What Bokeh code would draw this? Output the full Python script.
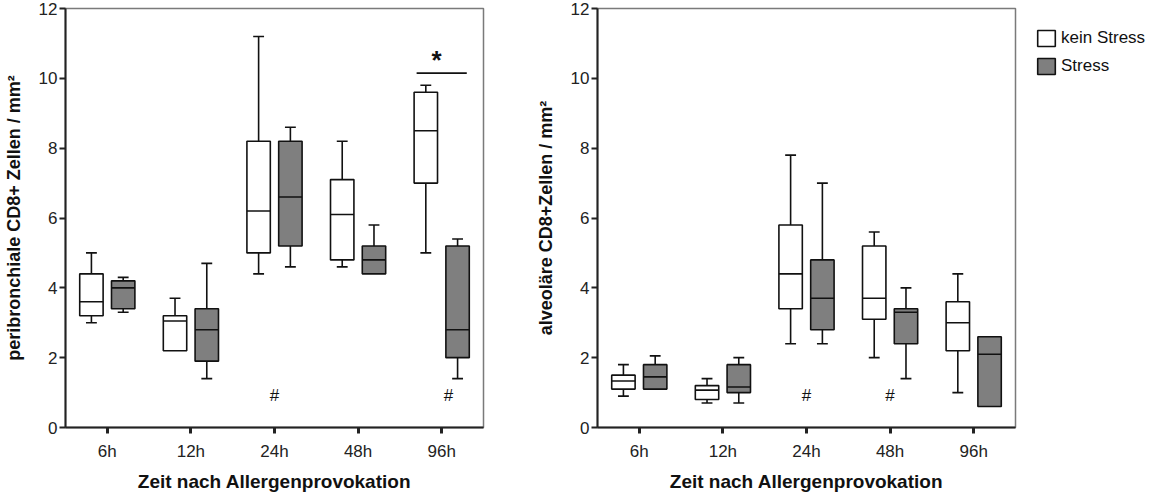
from bokeh.plotting import figure
from bokeh.models import ColumnDataSource, FactorRange, Range1d, Legend, LegendItem, FixedTicker
from bokeh.transform import dodge
from bokeh.layouts import row
from bokeh.embed import file_html
from bokeh.resources import INLINE
from bokeh.core.properties import value

categories = ["6h", "12h", "24h", "48h", "96h"]
y_ticks = [0, 2, 4, 6, 8, 10, 12]

# peribronchial CD8+ cells / mm2
peri_kein_low = [3.0, 2.2, 4.4, 4.6, 5.0]
peri_kein_q1 = [3.2, 2.2, 5.0, 4.8, 7.0]
peri_kein_med = [3.6, 3.05, 6.2, 6.1, 8.5]
peri_kein_q3 = [4.4, 3.2, 8.2, 7.1, 9.6]
peri_kein_high = [5.0, 3.7, 11.2, 8.2, 9.8]
peri_stress_low = [3.3, 1.4, 4.6, 4.4, 1.4]
peri_stress_q1 = [3.4, 1.9, 5.2, 4.4, 2.0]
peri_stress_med = [4.0, 2.8, 6.6, 4.8, 2.8]
peri_stress_q3 = [4.2, 3.4, 8.2, 5.2, 5.2]
peri_stress_high = [4.3, 4.7, 8.6, 5.8, 5.4]
peri_hash = ["24h", "96h"]

# alveolar CD8+ cells / mm2
alv_kein_low = [0.9, 0.7, 2.4, 2.0, 1.0]
alv_kein_q1 = [1.1, 0.8, 3.4, 3.1, 2.2]
alv_kein_med = [1.33, 1.07, 4.4, 3.7, 3.0]
alv_kein_q3 = [1.5, 1.2, 5.8, 5.2, 3.6]
alv_kein_high = [1.8, 1.4, 7.8, 5.6, 4.4]
alv_stress_low = [1.1, 0.7, 2.4, 1.4, 0.6]
alv_stress_q1 = [1.1, 1.0, 2.8, 2.4, 0.6]
alv_stress_med = [1.45, 1.16, 3.7, 3.3, 2.1]
alv_stress_q3 = [1.8, 1.8, 4.8, 3.4, 2.6]
alv_stress_high = [2.05, 2.0, 7.0, 4.0, 2.6]
alv_hash = ["24h", "48h"]

sig_category = "96h"
sig_level = 10.15

FONT = "Liberation Sans"
GREY = "#7f7f7f"
BOX_W = 0.28
OFF = 0.19


def draw_group(p, low, q1, med, q3, high, off, fill):
    src = ColumnDataSource(dict(cat=categories, low=low, q1=q1, med=med, q3=q3, high=high))
    up = [i for i in range(len(categories)) if high[i] > q3[i]]
    usrc = ColumnDataSource(dict(cat=[categories[i] for i in up], a=[q3[i] for i in up], b=[high[i] for i in up]))
    lo = [i for i in range(len(categories)) if low[i] < q1[i]]
    lsrc = ColumnDataSource(dict(cat=[categories[i] for i in lo], a=[q1[i] for i in lo], b=[low[i] for i in lo]))
    for s in (usrc, lsrc):
        p.segment(x0=dodge("cat", off, range=p.x_range), x1=dodge("cat", off, range=p.x_range),
                  y0="a", y1="b", line_color="#111111", line_width=1.6, source=s)
        p.segment(x0=dodge("cat", off - 0.065, range=p.x_range), x1=dodge("cat", off + 0.065, range=p.x_range),
                  y0="b", y1="b", line_color="#111111", line_width=1.6, source=s)
    r = p.vbar(x=dodge("cat", off, range=p.x_range), top="q3", bottom="q1", width=BOX_W,
               fill_color=fill, line_color="#111111", line_width=1.6, source=src)
    p.segment(x0=dodge("cat", off - BOX_W / 2, range=p.x_range), x1=dodge("cat", off + BOX_W / 2, range=p.x_range),
              y0="med", y1="med", line_color="#111111", line_width=1.6, source=src)
    return r


def make_panel(kein, stress, ylabel, hash_cats, hash_offsets, min_left, min_right):
    p = figure(x_range=FactorRange(factors=categories), y_range=Range1d(0, 12),
               frame_width=418, frame_height=419,
               min_border_left=min_left, min_border_right=min_right,
               min_border_top=8, min_border_bottom=68,
               output_backend="svg", toolbar_location=None)
    p.xgrid.visible = False
    p.ygrid.visible = False
    p.outline_line_color = "#7a7a7a"
    p.outline_line_width = 1.5
    p.background_fill_color = "white"
    p.border_fill_color = "white"

    p.yaxis.ticker = FixedTicker(ticks=y_ticks)
    for ax in (p.xaxis[0], p.yaxis[0]):
        ax.axis_line_color = "#222222"
        ax.axis_line_width = 2
        ax.major_tick_line_color = "#222222"
        ax.major_tick_line_width = 2
        ax.major_tick_in = 0
        ax.major_tick_out = 6
        ax.minor_tick_line_color = None
        ax.major_label_text_font = FONT
        ax.major_label_text_font_size = "17px"
        ax.major_label_text_color = "#222222"
        ax.axis_label_text_font = FONT
        ax.axis_label_text_font_style = "bold"
        ax.axis_label_text_color = "#111111"
    p.xaxis.major_tick_line_width = 3
    p.xaxis.major_label_standoff = 8
    p.xaxis.axis_label = "Zeit nach Allergenprovokation"
    p.xaxis.axis_label_text_font_size = "19px"
    p.xaxis.axis_label_standoff = 7
    p.yaxis.major_label_standoff = 2
    p.yaxis.axis_label = ylabel
    p.yaxis.axis_label_text_font_size = "18px"
    p.yaxis.axis_label_standoff = 12

    r1 = draw_group(p, *kein, -OFF, "white")
    r2 = draw_group(p, *stress, OFF, GREY)

    for c, o in zip(hash_cats, hash_offsets):
        hs = ColumnDataSource(dict(cat=[c], y=[0.92], t=["#"]))
        p.text(x=dodge("cat", o, range=p.x_range), y="y", text="t", source=hs,
               text_font=value(FONT), text_font_size="17px", text_color="#111111",
               text_align="center", text_baseline="middle")
    return p, r1, r2


p1, _, _ = make_panel(
    (peri_kein_low, peri_kein_q1, peri_kein_med, peri_kein_q3, peri_kein_high),
    (peri_stress_low, peri_stress_q1, peri_stress_med, peri_stress_q3, peri_stress_high),
    "peribronchiale CD8+ Zellen / mm²", peri_hash, [0.0, 0.08], 63, 49)

sig = ColumnDataSource(dict(cat=[sig_category], y=[sig_level], ys=[sig_level + 0.38], t=["*"]))
p1.segment(x0=dodge("cat", -0.3, range=p1.x_range), x1=dodge("cat", 0.3, range=p1.x_range),
           y0="y", y1="y", line_color="#111111", line_width=1.8, source=sig)
p1.text(x=dodge("cat", -0.06, range=p1.x_range), y="ys", text="t", source=sig,
        text_font=value(FONT), text_font_style="bold", text_font_size="26px", text_color="#111111",
        text_align="center", text_baseline="middle")

p2, r1, r2 = make_panel(
    (alv_kein_low, alv_kein_q1, alv_kein_med, alv_kein_q3, alv_kein_high),
    (alv_stress_low, alv_stress_q1, alv_stress_med, alv_stress_q3, alv_stress_high),
    "alveoläre CD8+Zellen / mm²", alv_hash, [0.0, 0.0], 65, 148)

legend = Legend(items=[LegendItem(label="kein Stress", renderers=[r1]),
                       LegendItem(label="Stress", renderers=[r2])],
                location="top_left", margin=20, padding=15, spacing=8,
                glyph_width=22, glyph_height=20, label_height=20, label_standoff=4,
                label_text_font=FONT, label_text_font_size="17px", label_text_color="#111111",
                border_line_color=None, background_fill_alpha=0)
p2.add_layout(legend, "right")

layout = row(p1, p2)
open("out.html", "w").write(file_html(layout, INLINE))
